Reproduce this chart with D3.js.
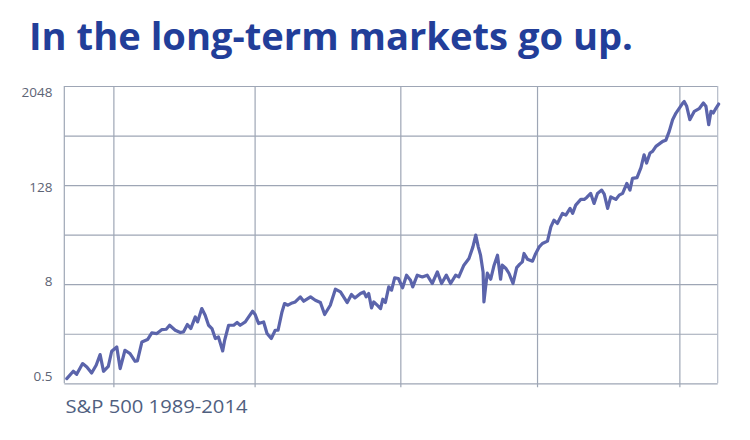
<!DOCTYPE html>
<html>
<head>
<meta charset="utf-8">
<script src="https://cdn.jsdelivr.net/npm/d3@7"></script>
<style>
  html, body { margin: 0; padding: 0; background: #ffffff; }
  svg { display: block; }
</style>
</head>
<body>
<svg id="chart" width="750" height="440"></svg>
<script>
// ---- data ----
const titleText = "In the long-term markets go up.";
const captionText = "S&P 500 1989-2014";

const years = [
  1988.35, 1988.58, 1988.70, 1988.91, 1989.06, 1989.23, 1989.39, 1989.53, 1989.65, 1989.82,
  1989.94, 1990.12, 1990.24, 1990.41, 1990.59, 1990.77, 1990.85, 1991.01, 1991.21, 1991.36,
  1991.54, 1991.72, 1991.87, 1991.99, 1992.19, 1992.37, 1992.48, 1992.62, 1992.74, 1992.90,
  1992.98, 1993.13, 1993.25, 1993.37, 1993.49, 1993.61, 1993.72, 1993.87, 1993.94, 1994.08,
  1994.26, 1994.38, 1994.49, 1994.67, 1994.79, 1994.93, 1995.02, 1995.14, 1995.32, 1995.44,
  1995.59, 1995.73, 1995.83, 1995.97, 1996.06, 1996.18, 1996.33, 1996.44, 1996.62, 1996.74,
  1996.98, 1997.15, 1997.33, 1997.48, 1997.68, 1997.86, 1998.04, 1998.28, 1998.43, 1998.55,
  1998.75, 1998.87, 1998.95, 1999.04, 1999.14, 1999.22, 1999.34, 1999.46, 1999.54, 1999.63,
  1999.75, 1999.85, 1999.96, 2000.09, 2000.24, 2000.38, 2000.52, 2000.60, 2000.76, 2000.94,
  2001.11, 2001.29, 2001.47, 2001.62, 2001.79, 2001.94, 2002.12, 2002.23, 2002.41, 2002.59,
  2002.73, 2002.83, 2002.92, 2003.00, 2003.09, 2003.12, 2003.18, 2003.24, 2003.36, 2003.48,
  2003.60, 2003.71, 2003.77, 2003.89, 2004.01, 2004.15, 2004.28, 2004.39, 2004.48, 2004.54,
  2004.66, 2004.84, 2004.95, 2005.07, 2005.19, 2005.37, 2005.49, 2005.60, 2005.72, 2005.90,
  2006.02, 2006.17, 2006.26, 2006.37, 2006.55, 2006.67, 2006.76, 2006.90, 2007.02, 2007.14,
  2007.29, 2007.38, 2007.50, 2007.61, 2007.79, 2007.91, 2008.03, 2008.18, 2008.29, 2008.38,
  2008.54, 2008.68, 2008.79, 2008.88, 2009.00, 2009.09, 2009.21, 2009.45, 2009.56, 2009.68,
  2009.80, 2009.92, 2010.04, 2010.16, 2010.21, 2010.30, 2010.41, 2010.57, 2010.74, 2010.89,
  2010.98, 2011.08, 2011.16, 2011.24, 2011.34, 2011.43
];

const values = [
  0.570, 0.700, 0.643, 0.868, 0.789, 0.667, 0.828, 1.117, 0.700, 0.805,
  1.225, 1.382, 0.755, 1.260, 1.149, 0.926, 0.934, 1.590, 1.700, 2.045,
  2.011, 2.250, 2.269, 2.537, 2.205, 2.068, 2.104, 2.588, 2.313, 3.202,
  2.784, 4.05, 3.357, 2.537, 2.313, 1.748, 1.829, 1.235, 1.667, 2.537,
  2.537, 2.738, 2.537, 2.784, 3.202, 3.756, 3.425, 2.661, 2.784, 2.011,
  1.748, 2.205, 2.205, 3.683, 4.66, 4.444, 4.737, 4.874, 5.606, 4.97,
  5.606, 5.11, 4.79, 3.425, 4.444, 6.955, 6.45, 4.79, 5.996, 5.45,
  6.165, 6.45, 5.606, 6.165, 4.12, 4.874, 4.444, 4.05, 5.256, 4.79,
  7.42, 6.77, 9.55, 9.38, 7.25, 10.30, 8.95, 7.42, 10.30, 9.81,
  10.30, 8.16, 11.29, 8.16, 10.30, 8.16, 10.30, 9.81, 13.62, 16.43,
  22.74, 31.57, 22.74, 18.03, 11.29, 4.874, 7.42, 10.88, 9.20, 13.62,
  18.03, 9.20, 13.62, 12.52, 10.79, 8.16, 12.70, 14.01, 14.94, 18.90,
  16.11, 15.23, 18.79, 22.55, 25.0, 26.67, 39.8, 48.0, 43.8, 58.0,
  55.3, 66.7, 58.0, 73.1, 85.8, 85.8, 90.7, 101.5, 76.7, 101.5,
  111.3, 99.5, 66.7, 92.2, 85.8, 96.7, 101.5, 134.3, 111.3, 154.4,
  157.9, 209, 299, 237, 314, 329, 378, 435, 448, 576,
  797, 961, 1106, 1272, 1327, 1160, 797, 1009, 1085, 1272,
  1160, 693, 1009, 961, 1106, 1237
];

const yGridValues = [0.5, 2, 8, 32, 128, 512, 2048];
const yLabelValues = [0.5, 8, 128, 2048];
const yLabelTexts = ["0.5", "8", "128", "2048"];
const xTickValues = [1990, 1995, 2000.16, 2005, 2010.04];

// ---- layout ----
const plot = { left: 64.3, right: 717.7, top: 86, bottom: 383.3 };

const svg = d3.select("#chart");

const x = d3.scaleLinear().domain([1988.262, 2011.397]).range([plot.left, plot.right]);
const y = d3.scaleLog().base(2).domain([0.5, 2048]).range([plot.bottom, plot.top]);
const yLab = d3.scaleLog().base(2).domain([0.5, 2048]).range([375.8, 92.7]);

const gridColor = "#9ea6b5";

// title
svg.append("text")
  .attr("x", 29).attr("y", 50)
  .attr("font-family", "'Open Sans', 'Noto Sans', sans-serif")
  .attr("font-weight", 700)
  .attr("font-size", 37)
  .attr("fill", "#223e99")
  .attr("textLength", 604)
  .attr("lengthAdjust", "spacingAndGlyphs")
  .text(titleText);

// horizontal gridlines via axis
const yAxis = d3.axisLeft(y).tickValues(yGridValues).tickSize(-(plot.right - plot.left)).tickFormat("");
const gy = svg.append("g").attr("transform", `translate(${plot.left},0)`).call(yAxis);
gy.select(".domain").remove();
gy.selectAll(".tick line").attr("stroke", gridColor).attr("stroke-width", 1.2);

// vertical gridlines via axis (with ticks extending below plot)
const xAxis = d3.axisBottom(x).tickValues(xTickValues).tickSize(-(plot.bottom - plot.top)).tickFormat("");
const gx = svg.append("g").attr("transform", `translate(0,${plot.bottom})`).call(xAxis);
gx.select(".domain").remove();
gx.selectAll(".tick line").attr("stroke", gridColor).attr("stroke-width", 1.2).attr("y2", 4).attr("y1", -(plot.bottom - plot.top));

// left and right borders
svg.append("line")
  .attr("x1", x.range()[0]).attr("x2", x.range()[0])
  .attr("y1", plot.top).attr("y2", plot.bottom)
  .attr("stroke", gridColor).attr("stroke-width", 1.2);
svg.append("line")
  .attr("x1", x.range()[1]).attr("x2", x.range()[1])
  .attr("y1", plot.top).attr("y2", plot.bottom)
  .attr("stroke", "#b4bbc8").attr("stroke-width", 1.2);

// y labels
svg.append("g").selectAll("text")
  .data(yLabelValues)
  .join("text")
  .attr("x", 52.5)
  .attr("y", d => yLab(d))
  .attr("dy", "0.35em")
  .attr("text-anchor", "end")
  .attr("font-family", "'Open Sans', 'Noto Sans', sans-serif")
  .attr("font-size", 13.5)
  .attr("fill", "#5d6475")
  .text((d, i) => yLabelTexts[i]);

// line
const series = years.map((yr, i) => ({ t: yr, v: values[i] }));
const line = d3.line()
  .x(d => x(d.t))
  .y(d => y(d.v))
  .curve(d3.curveLinear);

svg.append("path")
  .datum(series)
  .attr("d", line)
  .attr("fill", "none")
  .attr("stroke", "#5b64ab")
  .attr("stroke-width", 3.2)
  .attr("stroke-linejoin", "round")
  .attr("stroke-linecap", "round");

// caption
svg.append("text")
  .attr("x", 65.5).attr("y", 412.7)
  .attr("font-family", "'Open Sans', 'Noto Sans', sans-serif")
  .attr("font-size", 18.5)
  .attr("fill", "#50607f")
  .attr("textLength", 182)
  .attr("lengthAdjust", "spacingAndGlyphs")
  .text(captionText);
</script>
</body>
</html>
